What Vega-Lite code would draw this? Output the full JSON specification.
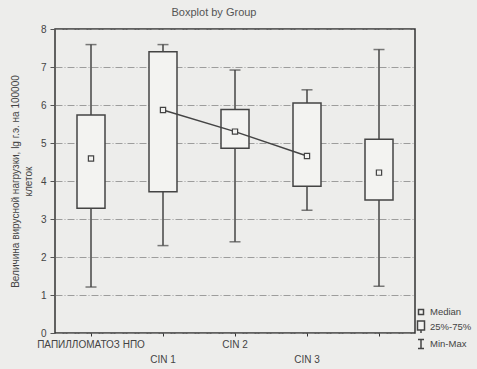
{
  "$schema": "https://vega.github.io/schema/vega-lite/v6.json",
  "autosize": "none",
  "width": 360,
  "height": 304,
  "padding": {"left": 55, "top": 29, "right": 62, "bottom": 36},
  "background": "#ededeb",
  "title": {"text": "Boxplot by Group", "fontSize": 11, "font": "Liberation Sans", "fontWeight": "normal", "color": "#555", "offset": 6, "dx": -21},
  "config": {
    "font": "Liberation Sans",
    "view": {"stroke": "#333", "strokeWidth": 1.5},
    "axis": {"labelColor": "#444", "titleColor": "#444", "domain": false},
    "axisY": {
      "titleFontSize": 10, "titleFontWeight": "normal", "titlePadding": 7, "titleLineHeight": 13,
      "labelFontSize": 10, "grid": true, "gridColor": "#888", "gridDash": [7, 2, 1, 2], "gridWidth": 0.8,
      "tickSize": 5, "tickColor": "#555", "labelPadding": 4
    }
  },
  "data": {
    "values": [
      {"group": "ПАПИЛЛОМАТОЗ НПО", "min": 1.21, "q1": 3.28, "median": 4.59, "q3": 5.74, "max": 7.59, "trend": false},
      {"group": "CIN 1", "min": 2.30, "q1": 3.72, "median": 5.87, "q3": 7.40, "max": 7.59, "trend": true},
      {"group": "CIN 2", "min": 2.40, "q1": 4.86, "median": 5.30, "q3": 5.88, "max": 6.92, "trend": true},
      {"group": "CIN 3", "min": 3.23, "q1": 3.86, "median": 4.66, "q3": 6.05, "max": 6.40, "trend": true},
      {"group": "Группа 5", "min": 1.23, "q1": 3.50, "median": 4.22, "q3": 5.10, "max": 7.46, "trend": false}
    ]
  },
  "encoding": {
    "x": {
      "field": "group", "type": "nominal", "sort": null,
      "scale": {"paddingInner": 0, "paddingOuter": 0},
      "axis": {
        "title": null, "labelAngle": 0, "labelFontSize": 10, "labelPadding": 3,
        "tickSize": 3, "tickColor": "#333", "ticks": true,
        "labelExpr": "datum.value == 'CIN 1' || datum.value == 'CIN 3' ? ['', datum.value] : (datum.value == 'Группа 5' ? '' : datum.value)",
        "labelLineHeight": 15
      }
    }
  },
  "layer": [
    {
      "mark": {"type": "rule", "color": "#444", "strokeWidth": 1.5},
      "encoding": {
        "y": {
          "field": "min", "type": "quantitative",
          "scale": {"domain": [0, 8], "nice": false},
          "axis": {"title": ["Величина вирусной нагрузки, lg г.э. на 100000", "клеток"], "values": [0, 1, 2, 3, 4, 5, 6, 7, 8]}
        },
        "y2": {"field": "max"}
      }
    },
    {
      "mark": {"type": "tick", "color": "#444", "size": 11, "thickness": 1.5},
      "encoding": {"y": {"field": "max", "type": "quantitative", "axis": {"title": ["Величина вирусной нагрузки, lg г.э. на 100000", "клеток"], "values": [0, 1, 2, 3, 4, 5, 6, 7, 8]}}}
    },
    {
      "mark": {"type": "tick", "color": "#444", "size": 11, "thickness": 1.5},
      "encoding": {"y": {"field": "min", "type": "quantitative", "axis": {"title": ["Величина вирусной нагрузки, lg г.э. на 100000", "клеток"], "values": [0, 1, 2, 3, 4, 5, 6, 7, 8]}}}
    },
    {
      "mark": {"type": "bar", "size": 28, "fill": "#f3f3f1", "stroke": "#444", "strokeWidth": 1.5},
      "encoding": {
        "y": {"field": "q1", "type": "quantitative", "axis": {"title": ["Величина вирусной нагрузки, lg г.э. на 100000", "клеток"], "values": [0, 1, 2, 3, 4, 5, 6, 7, 8]}},
        "y2": {"field": "q3"}
      }
    },
    {
      "transform": [{"filter": "datum.trend"}],
      "mark": {"type": "line", "color": "#444", "strokeWidth": 1.5},
      "encoding": {"y": {"field": "median", "type": "quantitative", "axis": {"title": ["Величина вирусной нагрузки, lg г.э. на 100000", "клеток"], "values": [0, 1, 2, 3, 4, 5, 6, 7, 8]}}}
    },
    {
      "mark": {"type": "point", "filled": true, "fill": "#f3f3f1", "stroke": "#444", "strokeWidth": 1.2, "size": 110, "opacity": 1},
      "encoding": {
        "y": {"field": "median", "type": "quantitative", "axis": {"title": ["Величина вирусной нагрузки, lg г.э. на 100000", "клеток"], "values": [0, 1, 2, 3, 4, 5, 6, 7, 8]}},
        "shape": {
          "datum": "Median",
          "scale": {
            "domain": ["Median", "25%-75%", "Min-Max"],
            "range": ["M-0.5,-0.5H0.5V0.5H-0.5Z", "M-0.7,-1.2H0.7V0.6H-0.7Z M0,0.6V1.2", "M-0.6,-0.9H0.6 M0,-0.9V0.9 M-0.6,0.9H0.6"]
          },
          "legend": {
            "title": null, "orient": "none", "legendX": 360, "legendY": 277,
            "symbolSize": 100, "labelFontSize": 9.5, "labelColor": "#444",
            "rowPadding": 0, "labelOffset": 3,
            "encode": {
              "symbols": {
                "update": {
                  "fill": {"value": "#f3f3f1"},
                  "stroke": {"value": "#444"},
                  "strokeWidth": {"value": 1.2},
                  "opacity": {"value": 1}
                }
              }
            }
          }
        }
      }
    }
  ]
}
